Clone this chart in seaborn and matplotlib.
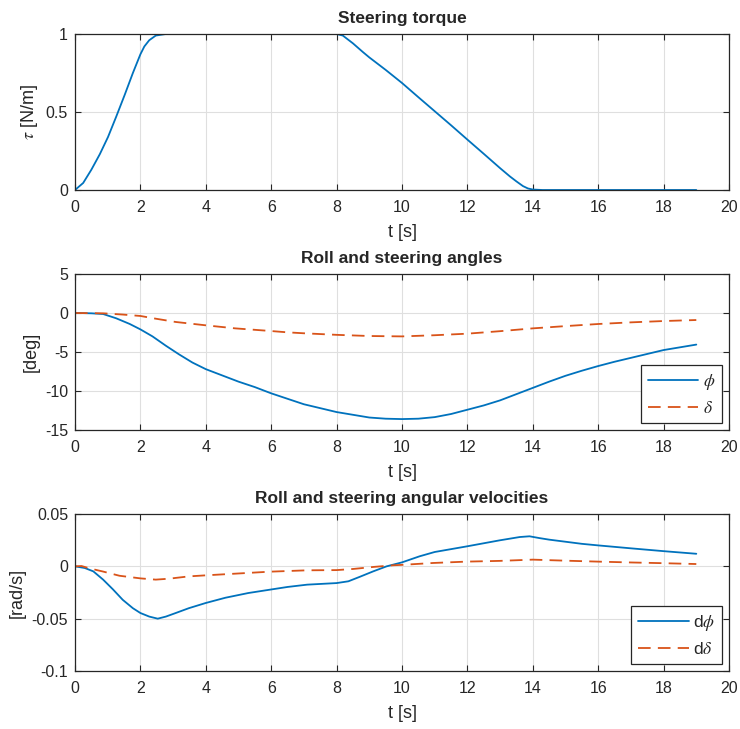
import numpy as np
import pandas as pd
import matplotlib
matplotlib.use("Agg")
import matplotlib.pyplot as plt
import seaborn as sns

# ---------------- data ----------------
t_tau = [0, 0.25, 0.5, 0.76, 1.01, 1.26, 1.52, 1.77, 2.0, 2.12, 2.27, 2.47, 2.78, 3.0,
         8.0, 8.19, 8.5, 8.8, 9.0, 9.5, 10.0, 10.5, 11.0, 11.5, 12.0, 12.5, 13.0,
         13.3, 13.5, 13.7, 13.85, 14.0, 14.3, 19.0]
tau = [0, 0.045, 0.13, 0.23, 0.34, 0.47, 0.61, 0.75, 0.87, 0.92, 0.96, 0.99, 1.0, 1.0,
       1.0, 0.99, 0.94, 0.885, 0.85, 0.77, 0.686, 0.595, 0.505, 0.415, 0.323, 0.232, 0.14,
       0.087, 0.055, 0.025, 0.01, 0.003, 0, 0]

t_phi = [0, 0.5, 0.86, 1.26, 1.67, 2.0, 2.37, 2.78, 3.18, 3.59, 4.0, 4.5, 5.0, 5.5, 6.0,
         6.5, 7, 8, 9, 9.5, 10, 10.5, 11, 11.5, 12, 12.5, 13, 13.5, 14, 14.5, 15,
         15.5, 16, 16.5, 17, 17.5, 18, 18.5, 19]
phi = [0, -0.04, -0.13, -0.68, -1.4, -2.1, -3.0, -4.2, -5.3, -6.35, -7.2, -8.0, -8.8, -9.5, -10.3,
       -11.0, -11.7, -12.7, -13.4, -13.55, -13.6, -13.55, -13.35, -12.95, -12.4, -11.85, -11.2,
       -10.4, -9.6, -8.8, -8.05, -7.4, -6.8, -6.25, -5.75, -5.25, -4.75, -4.4, -4.05]

t_delta = [0, 0.86, 1.46, 2.0, 2.47, 3.08, 4.0, 4.9, 5.96, 6.5, 7, 8, 9, 10,
           11, 12, 13, 14, 15, 16, 17, 18, 19]
delta = [0, -0.04, -0.2, -0.38, -0.73, -1.15, -1.58, -1.97, -2.3, -2.48, -2.6, -2.8, -2.95, -3.0,
         -2.85, -2.65, -2.33, -1.97, -1.68, -1.41, -1.2, -1.03, -0.9]

t_dphi = [0, 0.3, 0.56, 0.86, 1.16, 1.46, 1.77, 2.0, 2.27, 2.53, 2.78, 3.08, 3.48, 4.0,
          4.6, 5.3, 5.96, 6.5, 7.1, 8.0, 8.36, 8.71, 9.12, 9.53, 10.0, 10.54, 11.0,
          11.97, 12.98, 13.6, 13.9, 14.2, 14.5, 15, 15.5, 16, 17, 18, 19]
dphi = [0, -0.0016, -0.0048, -0.0127, -0.022, -0.032, -0.040, -0.0446, -0.048, -0.050,
        -0.048, -0.0446, -0.040, -0.035, -0.030, -0.0255, -0.0223, -0.0197, -0.0175,
        -0.016, -0.0143, -0.010, -0.0048, 0, 0.0038, 0.0096, 0.0137,
        0.019, 0.0248, 0.028, 0.0287, 0.027, 0.0255, 0.0235, 0.0215, 0.020, 0.0172, 0.0145, 0.012]

t_ddelta = [0, 0.2, 0.45, 0.86, 1.36, 2.0, 2.47, 2.88, 3.48, 4.0, 4.9, 5.96, 7.1, 8.0,
            8.51, 9.12, 9.73, 10.0, 10.95, 11.97, 12.98, 14.0, 15, 16, 17, 18, 19]
ddelta = [0, 0.0003, -0.002, -0.005, -0.009, -0.0115, -0.0127, -0.0118, -0.0096, -0.0086,
          -0.007, -0.0051, -0.0038, -0.0036, -0.0025, -0.0006, 0.001, 0.0014, 0.0032,
          0.0045, 0.0052, 0.0064, 0.0054, 0.0045, 0.0037, 0.003, 0.0022]

# ---------------- estilo ----------------
sns.set_style("ticks")
plt.rcParams["font.family"] = ["Liberation Sans", "DejaVu Sans"]
plt.rcParams["mathtext.fontset"] = "stix"
plt.rcParams["axes.unicode_minus"] = False

azul = "#0072BD"
naranja = "#D95319"
gris = "#262626"
guiones = (0, (7, 4))

fig = plt.figure(figsize=(7.4, 7.29), dpi=100)
izq, ancho = 75 / 740, 654 / 740
ax1 = fig.add_axes([izq, 1 - 190 / 729, ancho, 156 / 729])
ax2 = fig.add_axes([izq, 1 - 430 / 729, ancho, 156 / 729])
ax3 = fig.add_axes([izq, 1 - 671 / 729, ancho, 157 / 729])

# Panel 1: par de dirección
sns.lineplot(x=t_tau, y=tau, ax=ax1, color=azul, lw=1.3)
ax1.set_ylim(0, 1)
ax1.set_yticks([0, 0.5, 1])
ax1.set_yticklabels(["0", "0.5", "1"])
ax1.set_ylabel(r"$\tau$ [N/m]")
ax1.set_title("Steering torque")

# Panel 2: ángulos
sns.lineplot(x=t_phi, y=phi, ax=ax2, color=azul, lw=1.3, label=r"$\phi$")
sns.lineplot(x=t_delta, y=delta, ax=ax2, color=naranja, lw=1.3, linestyle=guiones,
             label=r"$\delta$")
ax2.set_ylim(-15, 5)
ax2.set_yticks([-15, -10, -5, 0, 5])
ax2.set_ylabel("[deg]")
ax2.set_title("Roll and steering angles")

# Panel 3: velocidades angulares
sns.lineplot(x=t_dphi, y=dphi, ax=ax3, color=azul, lw=1.3, label=r"d$\phi$")
sns.lineplot(x=t_ddelta, y=ddelta, ax=ax3, color=naranja, lw=1.3, linestyle=guiones,
             label=r"d$\delta$")
ax3.set_ylim(-0.1, 0.05)
ax3.set_yticks([-0.1, -0.05, 0, 0.05])
ax3.set_yticklabels(["-0.1", "-0.05", "0", "0.05"])
ax3.set_ylabel("[rad/s]")
ax3.set_title("Roll and steering angular velocities")

for ax in [ax1, ax2, ax3]:
    ax.set_xlim(0, 20)
    ax.set_xticks(range(0, 21, 2))
    ax.set_xlabel("t [s]", color=gris, fontsize=13, labelpad=7)
    ax.yaxis.label.set_color(gris)
    ax.yaxis.label.set_size(13)
    ax.set_title(ax.get_title(), fontweight="bold", fontsize=12.5, pad=8)
    ax.grid(True, color="#dfdfdf", lw=0.8)
    ax.set_axisbelow(True)
    ax.tick_params(direction="in", length=4, width=0.8, top=True, right=True,
                   labelsize=11.5, colors=gris)
    ax.tick_params(axis="x", pad=7)
    ax.tick_params(axis="y", pad=5)
    for lado in ax.spines.values():
        lado.set_visible(True)
        lado.set_color(gris)
        lado.set_linewidth(0.9)

for ax in [ax2, ax3]:
    leg = ax.legend(loc="lower right", fontsize=12.5, handlelength=2.9,
                    handletextpad=0.25, borderaxespad=0.4, fancybox=False,
                    framealpha=1, edgecolor=gris, labelspacing=0.45)
    leg.get_frame().set_linewidth(0.9)

fig.savefig("out.png", dpi=100)
